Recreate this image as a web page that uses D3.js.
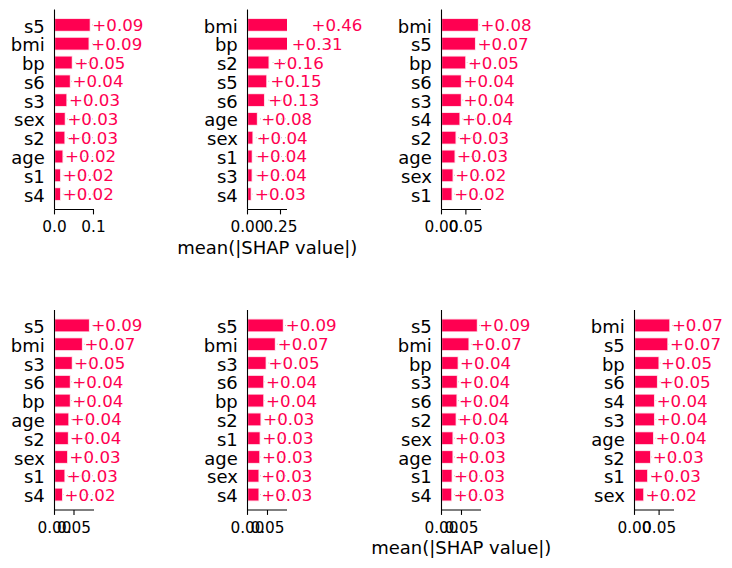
<!DOCTYPE html>
<html><head><meta charset="utf-8">
<script src="https://cdn.jsdelivr.net/npm/d3@7"></script>
<style>body{margin:0;background:#fff} svg{display:block}</style>
</head><body><svg id="chart" width="732" height="568"></svg>
<script>
// ---- data ----
const features1 = ["s5","bmi","bp","s6","s3","sex","s2","age","s1","s4"];
const values1   = [0.092,0.089,0.046,0.041,0.032,0.028,0.027,0.022,0.016,0.016];
const ticks1 = [0, 0.1];
const tickLabels1 = ["0.0","0.1"];

const features2 = ["bmi","bp","s2","s5","s6","age","sex","s1","s3","s4"];
const values2   = [0.457,0.307,0.164,0.147,0.130,0.076,0.042,0.037,0.036,0.029];
const ticks2 = [0, 0.25];
const tickLabels2 = ["0.00","0.25"];

const features3 = ["bmi","s5","bp","s6","s3","s4","s2","age","sex","s1"];
const values3   = [0.076,0.070,0.050,0.041,0.041,0.038,0.030,0.028,0.024,0.022];
const ticks3 = [0, 0.05];
const tickLabels3 = ["0.00","0.05"];

const features4 = ["s5","bmi","s3","s6","bp","age","s2","sex","s1","s4"];
const values4   = [0.090,0.072,0.046,0.041,0.041,0.037,0.036,0.034,0.027,0.021];

const features5 = ["s5","bmi","s3","s6","bp","s2","s1","age","sex","s4"];
const values5   = [0.090,0.070,0.047,0.041,0.041,0.034,0.032,0.031,0.029,0.029];

const features6 = ["s5","bmi","bp","s3","s6","s2","sex","age","s1","s4"];
const values6   = [0.090,0.069,0.042,0.040,0.039,0.037,0.029,0.029,0.027,0.026];

const features7 = ["bmi","s5","bp","s6","s4","s3","age","s2","s1","sex"];
const values7   = [0.072,0.068,0.050,0.047,0.041,0.041,0.039,0.033,0.027,0.019];

const ticksBottom = [0, 0.05];
const tickLabelsBottom = ["0.00","0.05"];

const axisTitle = "mean(|SHAP value|)";

// ---- layout / style ----
const RED = "#ff0051";
const FONT = "DejaVu Sans, sans-serif";
const AXW = 39.5;
const panels = [
  {f:features1, v:values1, t:ticks1, tl:tickLabels1, left:54.5,  top:9.5,  bottom:209.5, xmax:0.1013, off:2,   title:false},
  {f:features2, v:values2, t:ticks2, tl:tickLabels2, left:247.5, top:9.5,  bottom:209.5, xmax:0.2992, off:3.6, title:true},
  {f:features3, v:values3, t:ticks3, tl:tickLabels3, left:441.5, top:9.5,  bottom:209.5, xmax:0.0810, off:2,   title:false},
  {f:features4, v:values4, t:ticksBottom, tl:tickLabelsBottom, left:54.5,  top:310, bottom:510, xmax:0.1013, off:1.8, title:false},
  {f:features5, v:values5, t:ticksBottom, tl:tickLabelsBottom, left:247.5, top:310, bottom:510, xmax:0.0988, off:2.2, title:false},
  {f:features6, v:values6, t:ticksBottom, tl:tickLabelsBottom, left:441.5, top:310, bottom:510, xmax:0.0988, off:1.8, title:true},
  {f:features7, v:values7, t:ticksBottom, tl:tickLabelsBottom, left:634.5, top:310, bottom:510, xmax:0.0803, off:2,   title:false}
];

const svg = d3.select("#chart");

panels.forEach((p, pi) => {
  const x = d3.scaleLinear().domain([0, p.xmax]).range([p.left, p.left + AXW]);
  const y = d3.scaleLinear().domain([-0.82, p.f.length - 1 + 0.82]).range([p.top, p.bottom]);
  const rowH = Math.abs(y(1) - y(0));
  const g = svg.append("g");

  const clipId = "clip" + pi;
  svg.append("clipPath").attr("id", clipId)
    .append("rect").attr("x", p.left).attr("y", p.top)
    .attr("width", AXW).attr("height", p.bottom - p.top);

  // dashed guide lines
  g.append("g").selectAll("line").data(p.f).join("line")
    .attr("x1", p.left).attr("x2", p.left + AXW)
    .attr("y1", (d, i) => y(i)).attr("y2", (d, i) => y(i))
    .attr("stroke", "#888888").attr("stroke-width", 0.7)
    .attr("stroke-dasharray", "0.7,3.5");

  // bars
  g.append("g").attr("clip-path", `url(#${clipId})`)
    .selectAll("rect").data(p.v).join("rect")
    .attr("x", x(0))
    .attr("y", (d, i) => y(i) - rowH * 0.35)
    .attr("width", d => x(d) - x(0))
    .attr("height", rowH * 0.7)
    .attr("fill", RED)
    .attr("stroke", "rgba(255,255,255,0.8)")
    .attr("stroke-width", 1.4);

  // value labels
  g.append("g").selectAll("text").data(p.v).join("text")
    .attr("x", d => x(d) + p.off)
    .attr("y", (d, i) => y(i) + 6)
    .attr("fill", RED)
    .attr("font-family", FONT).attr("font-size", 16.67)
    .text(d => "+" + d.toFixed(2));

  // y tick labels
  g.append("g").selectAll("text").data(p.f).join("text")
    .attr("x", p.left - 9.7)
    .attr("y", (d, i) => y(i) + 7.6)
    .attr("text-anchor", "end")
    .attr("fill", "#000")
    .attr("font-family", FONT).attr("font-size", 18)
    .text(d => d);

  // spines
  g.append("line").attr("x1", p.left).attr("x2", p.left)
    .attr("y1", p.top).attr("y2", p.bottom)
    .attr("stroke", "#000").attr("stroke-width", 1.1);
  g.append("line").attr("x1", p.left).attr("x2", p.left + AXW)
    .attr("y1", p.bottom).attr("y2", p.bottom)
    .attr("stroke", "#000").attr("stroke-width", 1.1);

  // x ticks
  g.append("g").selectAll("line").data(p.t).join("line")
    .attr("x1", d => x(d)).attr("x2", d => x(d))
    .attr("y1", p.bottom).attr("y2", p.bottom + 4.9)
    .attr("stroke", "#000").attr("stroke-width", 1.1);
  g.append("g").selectAll("text").data(p.t).join("text")
    .attr("x", d => x(d))
    .attr("y", p.bottom + 22.5)
    .attr("text-anchor", "middle")
    .attr("fill", "#000")
    .attr("font-family", FONT).attr("font-size", 15.3)
    .text((d, i) => p.tl[i]);

  if (p.title) {
    g.append("text")
      .attr("x", p.left + AXW / 2)
      .attr("y", p.bottom + 44)
      .attr("text-anchor", "middle")
      .attr("fill", "#000")
      .attr("font-family", FONT).attr("font-size", 18)
      .text(axisTitle);
  }
});
</script>
</body></html>
